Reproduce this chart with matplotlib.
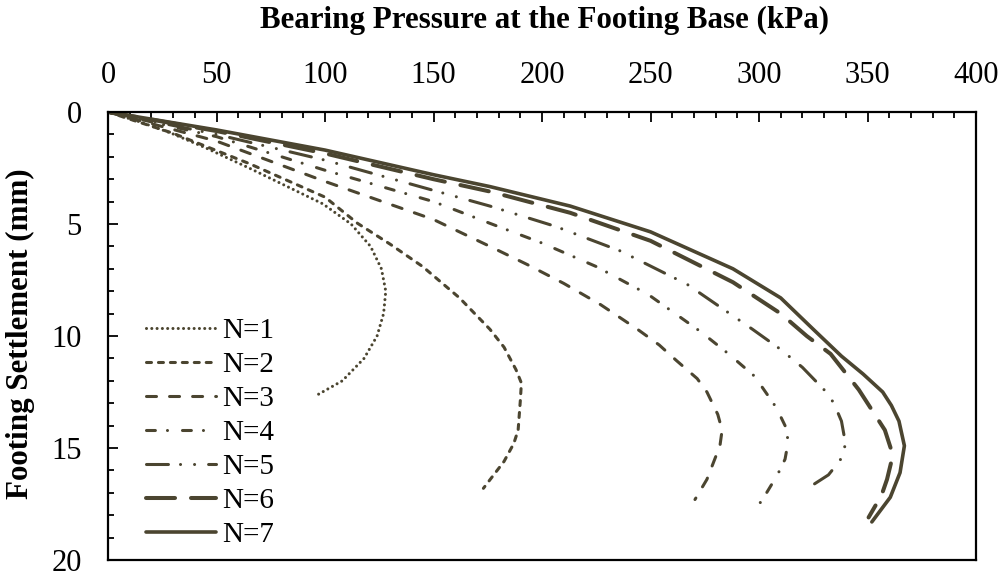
import matplotlib
matplotlib.use("Agg")
import matplotlib.pyplot as plt
from matplotlib.ticker import MultipleLocator

plt.rcParams["font.family"] = ["Liberation Serif", "DejaVu Serif"]
plt.rcParams["lines.scale_dashes"] = False

# bearing pressure (kPa) / settlement (mm) for each number of layers
n1_p = [0, 15, 29, 45, 65, 82, 99, 112, 121, 126, 128, 127, 124, 118, 108, 97]
n1_s = [0, 0.45, 0.94, 1.6, 2.5, 3.3, 4.1, 5.0, 6.0, 7.0, 8.0, 9.0, 10.0, 11.0, 12.0, 12.6]

n2_p = [0, 30, 65, 100, 115, 130, 145, 162, 176, 182.5, 188, 190.5, 190, 189, 187, 182.5, 173]
n2_s = [0, 0.95, 2.3, 3.8, 4.97, 5.9, 6.9, 8.3, 9.7, 10.5, 11.5, 12.1, 12.9, 14.2, 14.8, 15.6, 16.8]

n3_p = [0, 50, 100, 150, 176, 193, 210, 227, 244, 254, 262, 271.5, 276, 281, 283, 282, 280, 276, 270.5]
n3_s = [0, 1.3, 3.1, 4.8, 6.0, 6.8, 7.65, 8.6, 9.7, 10.4, 11.1, 11.9, 12.5, 13.5, 14.2, 14.9, 15.4, 16.4, 17.3]

n4_p = [0, 50, 100, 150, 176, 200, 225, 249, 273, 286, 298, 308, 312, 313.5, 312, 308.5, 303.5, 299.5]
n4_s = [0, 1.1, 2.6, 4.0, 4.97, 5.85, 6.9, 8.15, 9.8, 10.8, 11.8, 13.2, 14.0, 14.7, 15.5, 16.2, 17.0, 17.6]

n5_p = [0, 50, 100, 150, 176, 206, 236, 267, 297, 310, 320, 327, 331, 334.5, 338, 339.5, 339.5, 337, 332, 324]
n5_s = [0, 1.0, 2.15, 3.5, 4.2, 5.1, 6.2, 7.7, 9.7, 10.6, 11.4, 12.1, 12.5, 13.0, 13.8, 14.6, 15.2, 15.6, 16.2, 16.7]

n6_p = [0, 50, 100, 150, 176, 213, 250, 288, 310, 322, 333, 346, 352, 358, 361, 361, 359, 356.5, 350.5]
n6_s = [0, 0.85, 1.85, 3.0, 3.55, 4.5, 5.75, 7.6, 9.0, 10.0, 10.8, 12.4, 13.3, 14.2, 15.1, 15.6, 16.4, 17.1, 18.1]

n7_p = [0, 50, 100, 150, 176, 213, 250, 288, 310, 325, 338, 348, 357, 361, 364.5, 367, 365, 360.5, 352]
n7_s = [0, 0.8, 1.7, 2.8, 3.33, 4.2, 5.35, 7.0, 8.3, 9.7, 10.9, 11.7, 12.5, 13.1, 13.8, 14.9, 16.1, 17.2, 18.3]

labels = ["N=1", "N=2", "N=3", "N=4", "N=5", "N=6", "N=7"]
curves = [(n1_p, n1_s), (n2_p, n2_s), (n3_p, n3_s), (n4_p, n4_s),
          (n5_p, n5_s), (n6_p, n6_s), (n7_p, n7_s)]

# dash sequences in points (round caps add one line width to each dash)
styles = [
    dict(lw=2.2, dashes=(0.01, 3.8)),
    dict(lw=2.2, dashes=(3.6, 5.0)),
    dict(lw=2.2, dashes=(7.2, 9.4)),
    dict(lw=2.2, dashes=(6.4, 8.7, 0.01, 10.8)),
    dict(lw=2.2, dashes=(15.8, 8.7, 0.01, 10.1, 0.01, 10.1)),
    dict(lw=2.9, dashes=(20.9, 11.5)),
    dict(lw=2.6, dashes=None),
]
color = "#4B4530"

fig = plt.figure(figsize=(10.03, 5.75), dpi=100)
ax = fig.add_axes([108 / 1003, 1 - 560 / 575, (976 - 108) / 1003, (560 - 112) / 575])

for (p, s), lab, st in zip(curves, labels, styles):
    line, = ax.plot(p, s, color=color, lw=st["lw"], label=lab,
                    solid_capstyle="round", dash_capstyle="round",
                    solid_joinstyle="round", dash_joinstyle="round")
    if st["dashes"] is not None:
        line.set_dashes(st["dashes"])

ax.set_xlim(0, 400)
ax.set_ylim(20, 0)
ax.xaxis.set_major_locator(MultipleLocator(50))
ax.xaxis.set_minor_locator(MultipleLocator(10))
ax.yaxis.set_major_locator(MultipleLocator(5))
ax.yaxis.set_minor_locator(MultipleLocator(1))

ax.tick_params(axis="x", which="both", top=True, bottom=False,
               labeltop=True, labelbottom=False, direction="in")
ax.tick_params(axis="y", which="both", left=True, right=False, direction="in")
ax.tick_params(which="major", length=7, width=1.3, labelsize=22)
ax.tick_params(which="minor", length=4, width=1.3)
ax.tick_params(axis="x", which="major", pad=16)
ax.tick_params(axis="y", which="major", pad=19)
for sp in ax.spines.values():
    sp.set_linewidth(1.6)

fig.text(545 / 1003, 1 - 20 / 575, "Bearing Pressure at the Footing Base (kPa)",
         ha="center", va="center", fontsize=22.3, fontweight="bold")
fig.text(20 / 1003, 1 - 334 / 575, "Footing Settlement (mm)", rotation=90,
         ha="center", va="center", fontsize=22.3, fontweight="bold")

ax.legend(loc="upper left", bbox_to_anchor=(146 / 1003, 1 - 318 / 575),
          bbox_transform=fig.transFigure, frameon=False, fontsize=21,
          handlelength=2.4, handletextpad=0.2, labelspacing=0.26,
          borderpad=0, borderaxespad=0)

fig.savefig("out.png", dpi=100)
